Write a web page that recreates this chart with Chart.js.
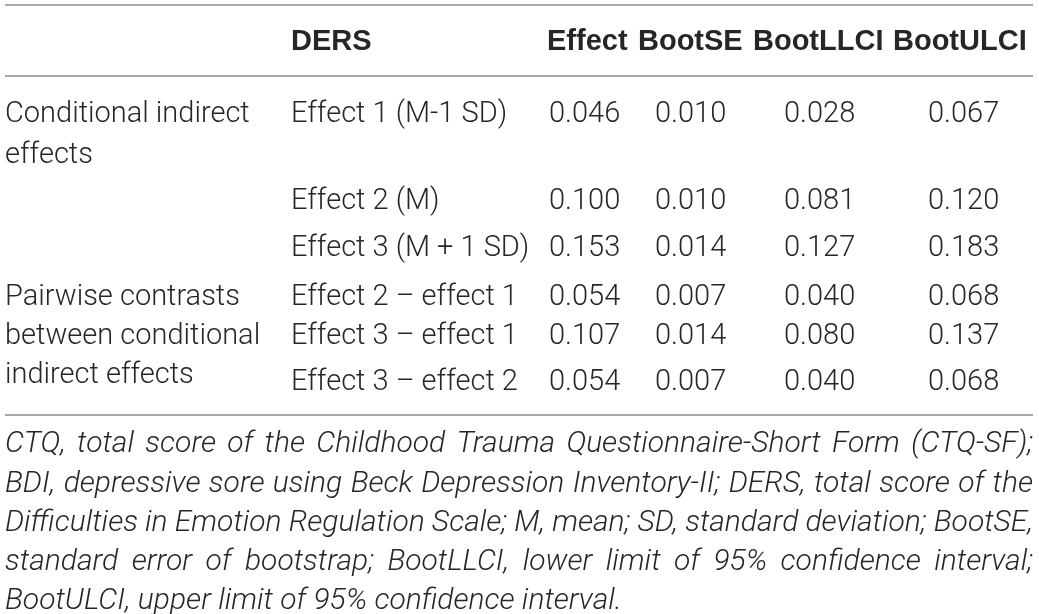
<!DOCTYPE html>
<html>
<head>
<meta charset="utf-8">
<script src="https://cdn.jsdelivr.net/npm/chart.js@4"></script>
<style>
  html, body { margin: 0; padding: 0; background: #fff; }
  #wrap { width: 1039px; height: 614px; }
</style>
</head>
<body>
<div id="wrap"><canvas id="table" width="1039" height="614"></canvas></div>
<script>
// table content
const headers = ['DERS', 'Effect', 'BootSE', 'BootLLCI', 'BootULCI'];
const groups = [
  ['Conditional indirect', 'effects'],
  ['Pairwise contrasts', 'between conditional', 'indirect effects']
];
const groupRows = [0, 3]; // first body row of each group
const dersLabels = [
  'Effect 1 (M-1 SD)',
  'Effect 2 (M)',
  'Effect 3 (M + 1 SD)',
  'Effect 2 \u2013 effect 1',
  'Effect 3 \u2013 effect 1',
  'Effect 3 \u2013 effect 2'
];
const effect = [0.046, 0.100, 0.153, 0.054, 0.107, 0.054];
const bootSE = [0.010, 0.010, 0.014, 0.007, 0.014, 0.007];
const bootLLCI = [0.028, 0.081, 0.127, 0.040, 0.080, 0.040];
const bootULCI = [0.067, 0.120, 0.183, 0.068, 0.137, 0.068];
const noteLines = [
  'CTQ, total score of the Childhood Trauma Questionnaire-Short Form (CTQ-SF);',
  'BDI, depressive sore using Beck Depression Inventory-II; DERS, total score of the',
  'Difficulties in Emotion Regulation Scale; M, mean; SD, standard deviation; BootSE,',
  'standard error of bootstrap; BootLLCI, lower limit of 95% confidence interval;',
  'BootULCI, upper limit of 95% confidence interval.'
];

// layout (table units on the hidden axes)
const W = 1039, H = 614;
const left = 5, right = 1033;
const headerX = [291, 547, 638, 753, 893];
const valueX = [549, 655, 784, 928];
const labelX = 291;
const headerY = 42;
const rowY = [115, 202, 249, 298, 337, 383];
const groupLineStep = [41, 39];
const rules = [5, 76, 415];
const noteY = [444, 484, 523, 562, 601];

const textColor = '#262626';
const ruleColor = '#a9a9a9';
const bodyFont = '300 29px Roboto, "Liberation Sans", sans-serif';
const headFont = 'bold 29px "Liberation Sans", Arial, sans-serif';
const noteFont = 'italic 300 30px Roboto, "Liberation Sans", sans-serif';

const valueCols = [effect, bootSE, bootLLCI, bootULCI];
const datasets = valueCols.map((col, c) => ({
  label: headers[c + 1],
  data: col.map((v, r) => ({ x: valueX[c], y: rowY[r], v: v })),
  pointRadius: 0,
  pointHoverRadius: 0
}));

const tablePlugin = {
  id: 'tableText',
  afterDatasetsDraw(chart) {
    const { ctx, scales: { x, y } } = chart;
    ctx.save();

    // horizontal rules
    ctx.strokeStyle = ruleColor;
    ctx.lineWidth = 2;
    rules.forEach(r => {
      const py = Math.round(y.getPixelForValue(r));
      ctx.beginPath();
      ctx.moveTo(x.getPixelForValue(left), py);
      ctx.lineTo(x.getPixelForValue(right), py);
      ctx.stroke();
    });

    ctx.fillStyle = textColor;
    ctx.textBaseline = 'middle';
    ctx.textAlign = 'left';

    // header
    ctx.font = headFont;
    headers.forEach((h, i) => {
      ctx.fillText(h, x.getPixelForValue(headerX[i]), y.getPixelForValue(headerY));
    });

    // group labels
    ctx.font = bodyFont;
    groups.forEach((lines, g) => {
      lines.forEach((t, k) => {
        const yy = rowY[groupRows[g]] + k * groupLineStep[g];
        ctx.fillText(t, x.getPixelForValue(left), y.getPixelForValue(yy));
      });
    });

    // DERS labels
    dersLabels.forEach((t, r) => {
      ctx.fillText(t, x.getPixelForValue(labelX), y.getPixelForValue(rowY[r]));
    });

    // values from the dataset elements
    chart.data.datasets.forEach((ds, i) => {
      chart.getDatasetMeta(i).data.forEach((pt, j) => {
        ctx.fillText(ds.data[j].v.toFixed(3), pt.x, pt.y);
      });
    });

    // footnote, justified except the last line
    ctx.font = noteFont;
    const x0 = x.getPixelForValue(left), x1 = x.getPixelForValue(right);
    noteLines.forEach((line, i) => {
      const py = y.getPixelForValue(noteY[i]);
      if (i === noteLines.length - 1) {
        ctx.fillText(line, x0, py);
        return;
      }
      const words = line.split(' ');
      const wordsW = words.reduce((s, w) => s + ctx.measureText(w).width, 0);
      const gap = (x1 - x0 - wordsW) / (words.length - 1);
      let cx = x0;
      words.forEach(w => {
        ctx.fillText(w, cx, py);
        cx += ctx.measureText(w).width + gap;
      });
    });

    ctx.restore();
  }
};

new Chart(document.getElementById('table'), {
  type: 'scatter',
  data: { datasets: datasets },
  options: {
    responsive: false,
    animation: false,
    layout: { padding: 0 },
    plugins: { legend: { display: false }, tooltip: { enabled: false } },
    events: [],
    scales: {
      x: { type: 'linear', min: 0, max: W, display: false },
      y: { type: 'linear', min: 0, max: H, reverse: true, display: false }
    }
  },
  plugins: [tablePlugin]
});
</script>
</body>
</html>
